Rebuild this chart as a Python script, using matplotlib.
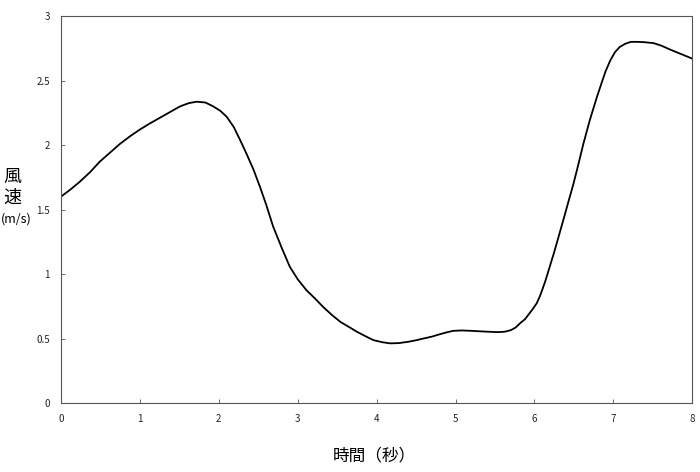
import matplotlib
matplotlib.use("Agg")
import matplotlib.pyplot as plt

plt.rcParams['font.family'] = ['Noto Sans CJK JP', 'DejaVu Sans']

time_s = [0.0, 0.12, 0.24, 0.37, 0.49, 0.62, 0.75, 0.88, 1.0, 1.12, 1.25, 1.38,
          1.51, 1.62, 1.72, 1.83, 1.93, 2.02, 2.10, 2.19, 2.27, 2.35, 2.44,
          2.52, 2.60, 2.69, 2.80, 2.90, 3.0, 3.11, 3.22, 3.32, 3.43, 3.54,
          3.65, 3.75, 3.86, 3.96, 4.07, 4.17, 4.28, 4.40, 4.50, 4.59, 4.70,
          4.78, 4.88, 4.97, 5.08, 5.2, 5.35, 5.53, 5.62, 5.7, 5.76, 5.82,
          5.88, 5.93, 5.98, 6.03, 6.07, 6.10, 6.14, 6.17, 6.21, 6.25, 6.32,
          6.38, 6.43, 6.49, 6.54, 6.58, 6.62, 6.66, 6.70, 6.75, 6.79, 6.85,
          6.90, 6.96, 7.02, 7.08, 7.15, 7.22, 7.30, 7.40, 7.51, 7.61, 7.72,
          7.86, 8.0]
wind_speed = [1.60, 1.655, 1.716, 1.79, 1.87, 1.94, 2.01, 2.07, 2.12, 2.165,
              2.21, 2.255, 2.30, 2.325, 2.336, 2.33, 2.30, 2.265, 2.22, 2.14,
              2.04, 1.935, 1.81, 1.68, 1.54, 1.367, 1.20, 1.057, 0.96, 0.876,
              0.81, 0.747, 0.685, 0.63, 0.59, 0.553, 0.518, 0.488, 0.472,
              0.463, 0.465, 0.475, 0.487, 0.50, 0.515, 0.53, 0.547, 0.56,
              0.563, 0.56, 0.555, 0.55, 0.553, 0.565, 0.585, 0.62, 0.65, 0.69,
              0.73, 0.775, 0.83, 0.88, 0.95, 1.01, 1.09, 1.17, 1.32, 1.45,
              1.56, 1.69, 1.81, 1.91, 2.01, 2.10, 2.19, 2.29, 2.37, 2.48,
              2.57, 2.655, 2.72, 2.76, 2.785, 2.80, 2.80, 2.797, 2.79, 2.77,
              2.74, 2.705, 2.67]
x_ticks = [0, 1, 2, 3, 4, 5, 6, 7, 8]
y_ticks = [0, 0.5, 1, 1.5, 2, 2.5, 3]
y_tick_labels = ['0', '0.5', '1', '1.5', '2', '2.5', '3']

fig = plt.figure(figsize=(7, 4.72), dpi=100)
ax = fig.add_axes([0.087, 0.146, 0.902, 0.820])
ax.plot(time_s, wind_speed, color='black', linewidth=1.3,
        solid_joinstyle='round', solid_capstyle='round')
ax.set_xlim(0, 8)
ax.set_ylim(0, 3)
ax.set_xticks(x_ticks)
ax.set_xticklabels([str(t) for t in x_ticks])
ax.set_yticks(y_ticks)
ax.set_yticklabels(y_tick_labels)
for s in ax.spines.values():
    s.set_color('#555555')
    s.set_linewidth(0.8)
ax.tick_params(direction='in', length=3, width=0.6, colors='#555555',
               labelcolor='#222222', labelsize=7, pad=8)

fig.text(0.018, 0.625, '風', fontsize=13, ha='center', va='center')
fig.text(0.018, 0.580, '速', fontsize=13, ha='center', va='center')
fig.text(0.001, 0.535, '(m/s)', fontsize=9, ha='left', va='center')
fig.text(0.535, 0.035, '時間（秒）', fontsize=12, ha='center', va='center')

fig.savefig('out.png', dpi=100)
